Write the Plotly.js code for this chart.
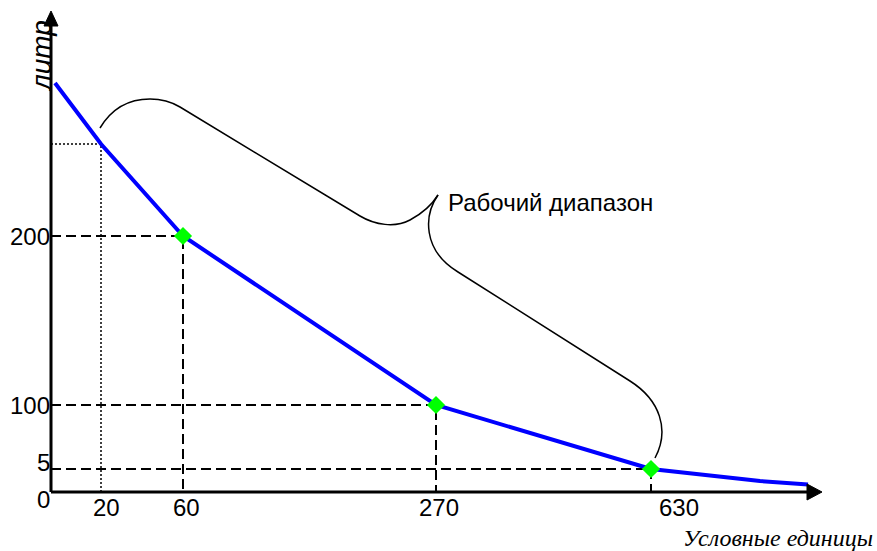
<!DOCTYPE html>
<html>
<head>
<meta charset="utf-8">
<script src="https://cdn.plot.ly/plotly-3.0.1.min.js"></script>
<style>html,body{margin:0;padding:0;background:#fff;}#chart{width:877px;height:551px;}</style>
</head>
<body>
<div id="chart"></div>
<script>
// Schematic (non-linear) chart: positions are in schematic axis units, labels give the real values
const xTickPos = [50, 132, 385, 600];
const xTickText = ['20', '60', '270', '630'];
const yTickPos = [256, 87, 23, 0];
const yTickText = ['200', '100', '5', '0'];

const curveX = [4, 50, 132, 385, 600, 659, 709, 757];
const curveY = [409, 348, 256, 87, 23, 16.5, 11, 7.5];

const keyX = [132, 385, 600];
const keyY = [256, 87, 23];

const refX = [50];
const refY = [348];

const rangeLabel = 'Рабочий диапазон';
const xTitle = 'Условные единицы';
const yTitle = 'литр';

// label nudges (pixels) – styling only
const xLabelShift = [5, 3, 3, 28];
const yLabelShift = [0, 0, 7, -7];

const traces = [];

// dotted reference guide
refX.forEach((rx, i) => {
  traces.push({x: [0, rx, rx], y: [refY[i], refY[i], 0], mode: 'lines',
    line: {color: '#000', width: 1.5, dash: '2px,2px'}, hoverinfo: 'skip'});
});
// dashed guides
keyX.forEach((kx, i) => {
  traces.push({x: [0, kx, kx], y: [keyY[i], keyY[i], 0], mode: 'lines',
    line: {color: '#000', width: 2, dash: '10px,5px'}, hoverinfo: 'skip'});
});
// main curve
traces.push({x: curveX, y: curveY, mode: 'lines', line: {color: '#0000ff', width: 4}});
// key points
traces.push({x: keyX, y: keyY, mode: 'markers',
  marker: {symbol: 'diamond', size: 14, color: '#00ff00', line: {width: 0}}});

const sans = 'Liberation Sans, Arial';
const annotations = [];
xTickPos.forEach((p, i) => annotations.push({x: p, y: 0, xref: 'x', yref: 'y', text: xTickText[i],
  showarrow: false, xanchor: 'center', yanchor: 'middle', xshift: xLabelShift[i], yshift: -15,
  font: {family: sans, size: 24, color: '#000'}}));
yTickPos.forEach((p, i) => annotations.push({x: 0, y: p, xref: 'x', yref: 'y', text: yTickText[i],
  showarrow: false, xanchor: 'right', yanchor: 'middle', xshift: 1, yshift: yLabelShift[i],
  font: {family: sans, size: 24, color: '#000'}}));
annotations.push({x: 395, y: 290, xref: 'x', yref: 'y', text: rangeLabel, showarrow: false,
  xanchor: 'left', yanchor: 'middle', font: {family: sans, size: 24, color: '#000'}});
annotations.push({x: -10, y: 436, xref: 'x', yref: 'y', text: '<i>' + yTitle + '</i>', showarrow: false,
  textangle: -90, xanchor: 'center', yanchor: 'middle', font: {family: sans, size: 28, color: '#000'}});
annotations.push({x: 0.933, y: -0.073, xref: 'paper', yref: 'paper', text: '<i>' + xTitle + '</i>', showarrow: false,
  xanchor: 'center', yanchor: 'middle', font: {family: 'Liberation Serif, Times New Roman', size: 24, color: '#000'}});

const shapes = [
  // axes
  {type: 'line', xref: 'x', yref: 'y', x0: 0, y0: 0, x1: 0, y1: 468, line: {color: '#000', width: 3}},
  {type: 'line', xref: 'x', yref: 'y', x0: 0, y0: 0, x1: 758, y1: 0, line: {color: '#000', width: 3}},
  {type: 'path', xref: 'x', yref: 'y', path: 'M -7,466 L 0,481 L 7,466 Z', fillcolor: '#000', line: {color: '#000', width: 1}},
  {type: 'path', xref: 'x', yref: 'y', path: 'M 756,8 L 771,0 L 756,-8 Z', fillcolor: '#000', line: {color: '#000', width: 1}},
  // brace
  {type: 'path', xref: 'x', yref: 'y',
   path: 'M 49,364 C 61,384 79,393 99,393 C 111,393 119,391 129,385 L 309,276 C 324,267 344,264 359,272 C 374,280 382,289 387,297',
   line: {color: '#000', width: 1.5}},
  {type: 'path', xref: 'x', yref: 'y',
   path: 'M 387,297 C 373,277 371,242 407,220 L 579,111 C 609,92 619,62 604,34',
   line: {color: '#000', width: 1.5}}
];

const layout = {
  width: 877, height: 551,
  margin: {l: 41, r: 46, t: 8, b: 49},
  paper_bgcolor: '#fff', plot_bgcolor: '#fff',
  showlegend: false,
  xaxis: {range: [-10, 780], visible: false, fixedrange: true},
  yaxis: {range: [-10, 484], visible: false, fixedrange: true},
  shapes: shapes,
  annotations: annotations
};

Plotly.newPlot('chart', traces, layout, {displayModeBar: false, staticPlot: true});
</script>
</body>
</html>
